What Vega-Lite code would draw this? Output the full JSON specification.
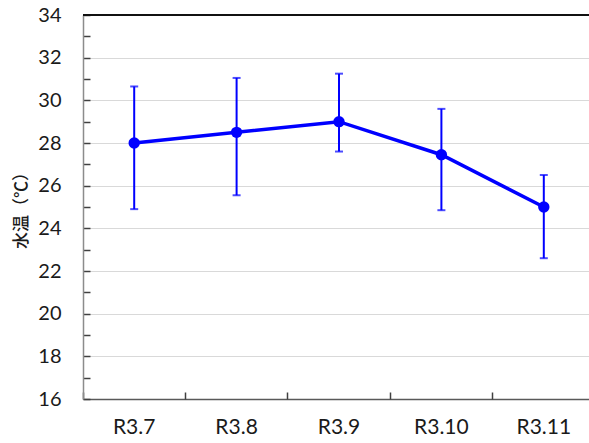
{
  "$schema": "https://vega.github.io/schema/vega-lite/v6.json",
  "width": 512,
  "height": 384,
  "autosize": "none",
  "padding": {"left": 83, "top": 15, "right": 0, "bottom": 44},
  "config": {
    "view": {"stroke": null},
    "font": "Lato",
    "axis": {"labelFont": "Lato", "labelColor": "#1a1a1a", "labelFontSize": 20}
  },
  "data": {
    "values": [
      {"year": "R3.7", "mean": 28.0, "lo": 24.9, "hi": 30.65},
      {"year": "R3.8", "mean": 28.5, "lo": 25.55, "hi": 31.05},
      {"year": "R3.9", "mean": 29.0, "lo": 27.6, "hi": 31.25},
      {"year": "R3.10", "mean": 27.45, "lo": 24.85, "hi": 29.6},
      {"year": "R3.11", "mean": 25.0, "lo": 22.6, "hi": 26.5}
    ]
  },
  "resolve": {"axis": {"x": "independent", "y": "independent"}},
  "layer": [
    {
      "mark": {"type": "rule", "color": "#111", "strokeWidth": 2},
      "encoding": {
        "y": {
          "datum": 34,
          "type": "quantitative",
          "scale": {"domain": [16, 34], "nice": false, "zero": false},
          "axis": {
            "orient": "left",
            "values": [16, 17, 18, 19, 20, 21, 22, 23, 24, 25, 26, 27, 28, 29, 30, 31, 32, 33, 34],
            "labels": false,
            "grid": false,
            "domain": false,
            "ticks": true,
            "tickSize": -7,
            "tickColor": "#404040",
            "tickWidth": 1.5,
            "title": null
          }
        }
      }
    },
    {
      "mark": {"type": "rule", "color": "#0000ff", "strokeWidth": 2},
      "encoding": {
        "x": {
          "field": "year",
          "type": "nominal",
          "sort": null,
          "scale": {"paddingInner": 0, "paddingOuter": 0},
          "axis": {
            "orient": "bottom",
            "title": null,
            "labelAngle": 0,
            "labelPadding": 17,
            "labelFontSize": 21,
            "ticks": false,
            "domainColor": "#595959",
            "domainWidth": 1.5
          }
        },
        "y": {
          "field": "lo",
          "type": "quantitative",
          "axis": {
            "orient": "left",
            "values": [16, 18, 20, 22, 24, 26, 28, 30, 32, 34],
            "ticks": false,
            "labelPadding": 22,
            "grid": true,
            "gridColor": "#d9d9d9",
            "gridWidth": 1,
            "domainColor": "#8c8c8c",
            "domainWidth": 1.5,
            "title": "水温（℃）",
            "titleFont": "Noto Sans CJK JP",
            "titleFontSize": 17,
            "titleFontWeight": 500,
            "titleColor": "#1a1a1a",
            "titlePadding": 7,
            "titleY": 191
          }
        },
        "y2": {"field": "hi"}
      }
    },
    {
      "mark": {"type": "tick", "orient": "horizontal", "color": "#0000ff", "size": 8, "thickness": 2},
      "encoding": {
        "x": {
          "field": "year",
          "type": "nominal",
          "sort": null,
          "axis": {
            "orient": "bottom",
            "title": null,
            "labels": false,
            "domain": false,
            "ticks": true,
            "bandPosition": 0,
            "tickSize": -7,
            "tickColor": "#404040",
            "tickWidth": 1.5
          }
        },
        "y": {"field": "lo", "type": "quantitative", "axis": null}
      }
    },
    {
      "mark": {"type": "tick", "orient": "horizontal", "color": "#0000ff", "size": 8, "thickness": 2},
      "encoding": {
        "x": {"field": "year", "type": "nominal", "sort": null, "axis": null},
        "y": {"field": "hi", "type": "quantitative", "axis": null}
      }
    },
    {
      "mark": {"type": "line", "color": "#0000ff", "strokeWidth": 3.5},
      "encoding": {
        "x": {"field": "year", "type": "nominal", "sort": null, "axis": null},
        "y": {"field": "mean", "type": "quantitative", "axis": null}
      }
    },
    {
      "mark": {"type": "point", "filled": true, "color": "#0000ff", "opacity": 1, "size": 130},
      "encoding": {
        "x": {"field": "year", "type": "nominal", "sort": null, "axis": null},
        "y": {"field": "mean", "type": "quantitative", "axis": null}
      }
    }
  ]
}
